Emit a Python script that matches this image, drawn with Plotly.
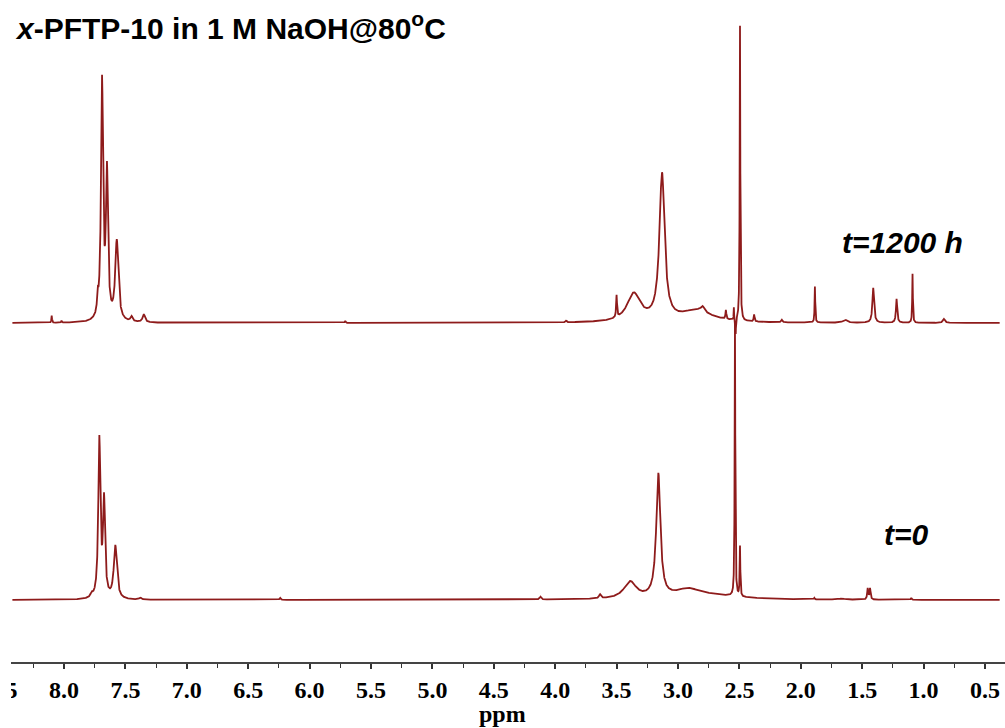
import numpy as np
import plotly.graph_objects as go

# ---- data (ppm, peak height above baseline, half width) ----
# t = 1200 h (upper spectrum)
top_pos    = [8.10, 8.02, 7.725, 7.69, 7.65, 7.57, 7.45, 7.35, 5.71, 3.91, 3.50, 3.36, 3.13,
              2.85, 2.80, 2.61, 2.545, 2.530, 2.495, 2.38, 2.155, 1.885, 1.64, 1.41, 1.22, 1.09, 0.835]
top_height = [7, 2, 15, 238, 145, 80, 5, 8, 2, 2, 22, 28, 146,
              12, 5, 9, 12, -16, 295, 7, 2.5, 36, 3, 35, 24, 49, 4]
top_width  = [0.003, 0.003, 0.006, 0.010, 0.010, 0.015, 0.010, 0.012, 0.004, 0.004, 0.004, 0.065, 0.025,
              0.15, 0.015, 0.004, 0.002, 0.002, 0.003, 0.004, 0.006, 0.003, 0.02, 0.008, 0.006, 0.003, 0.010]

# t = 0 (lower spectrum)
bot_pos    = [7.775, 7.712, 7.674, 7.582, 7.38, 6.24, 4.12, 3.635, 3.39, 3.16, 2.92, 2.75,
              2.536, 2.495, 1.89, 1.67, 1.455, 1.436, 1.10]
bot_height = [3.5, 158, 96, 53, 2, 2, 3, 4, 17, 123, 8, 4,
              273, 50, 1.5, 1, 11, 11, 2]
bot_width  = [0.010, 0.010, 0.010, 0.015, 0.010, 0.006, 0.008, 0.010, 0.06, 0.02, 0.12, 0.30,
              0.003, 0.003, 0.004, 0.03, 0.005, 0.005, 0.004]

# vertical stacking of the two spectra (baseline offsets)
top_offset = 277
bot_offset = 0

labels = ["t=1200 h", "t=0"]
label_pos = [(1.168, 358), (1.14, 66)]   # (ppm, intensity) for the series labels

tick_vals = [8.5, 8.0, 7.5, 7.0, 6.5, 6.0, 5.5, 5.0, 4.5, 4.0, 3.5, 3.0, 2.5, 2.0, 1.5, 1.0, 0.5]
tick_text = [f"{v:.1f}" for v in tick_vals]

ppm = np.arange(8.42, 0.38, -0.0005)


def spectrum(pos, height, width):
    y = np.zeros_like(ppm)
    for p, h, w in zip(pos, height, width):
        y += h * w * w / ((ppm - p) ** 2 + w * w)
    return y


y_top = spectrum(top_pos, top_height, top_width) + top_offset
y_bot = spectrum(bot_pos, bot_height, bot_width) + bot_offset

color = "#8E1B1B"
fig = go.Figure()
fig.add_trace(go.Scatter(x=ppm, y=y_top, mode="lines", line=dict(color=color, width=1.8),
                         name=labels[0], showlegend=False, hoverinfo="skip"))
fig.add_trace(go.Scatter(x=ppm, y=y_bot, mode="lines", line=dict(color=color, width=1.8),
                         name=labels[1], showlegend=False, hoverinfo="skip"))

for lab, (lx, ly) in zip(labels, label_pos):
    fig.add_annotation(x=lx, y=ly, xref="x", yref="y", text=f"<b><i>{lab}</i></b>",
                       showarrow=False, font=dict(family="Liberation Sans, Arial", size=30, color="black"),
                       xanchor="center", yanchor="middle")

fig.add_annotation(x=13 / 1005, y=(662 - 26) / 662, xref="paper", yref="paper",
                   text="<b><i>x</i>-PFTP-10 in 1 M NaOH@80<sup>o</sup>C</b>",
                   showarrow=False, font=dict(family="Liberation Sans, Arial", size=30, color="black"),
                   xanchor="left", yanchor="middle")

fig.add_annotation(x=0.5, y=(662 - 714) / 662, xref="paper", yref="paper",
                   text="ppm", showarrow=False,
                   font=dict(family="Liberation Serif, Times New Roman", size=24, color="black", weight="bold"),
                   xanchor="center", yanchor="middle")

# the reference picture is cropped a few pixels left of the spectrum start
fig.add_shape(type="rect", xref="paper", yref="paper", x0=-0.01, x1=11 / 1005, y0=-0.2, y1=0.1,
              fillcolor="white", line=dict(width=0), layer="above")

fig.update_layout(
    width=1005, height=728,
    margin=dict(l=0, r=0, t=0, b=66, autoexpand=False),
    paper_bgcolor="white", plot_bgcolor="white",
    xaxis=dict(
        automargin=False,
        range=[8.521, 0.337],
        tickmode="array", tickvals=tick_vals, ticktext=tick_text,
        ticklabeloverflow="allow",
        ticks="outside", ticklen=5, tickwidth=1.5, tickcolor="#333",
        minor=dict(dtick=0.25, ticks="outside", ticklen=4, tickwidth=1.2, tickcolor="#333"),
        showline=True, linecolor="#444", linewidth=2,
        showgrid=False, zeroline=False,
        tickfont=dict(family="Liberation Serif, Times New Roman", size=24, color="black", weight="bold"),
    ),
    yaxis=dict(range=[-62, 600], visible=False, showgrid=False, zeroline=False, automargin=False),
)

fig.write_html("out.html", config={"displayModeBar": False},
               post_script="document.body.style.margin='0';")
